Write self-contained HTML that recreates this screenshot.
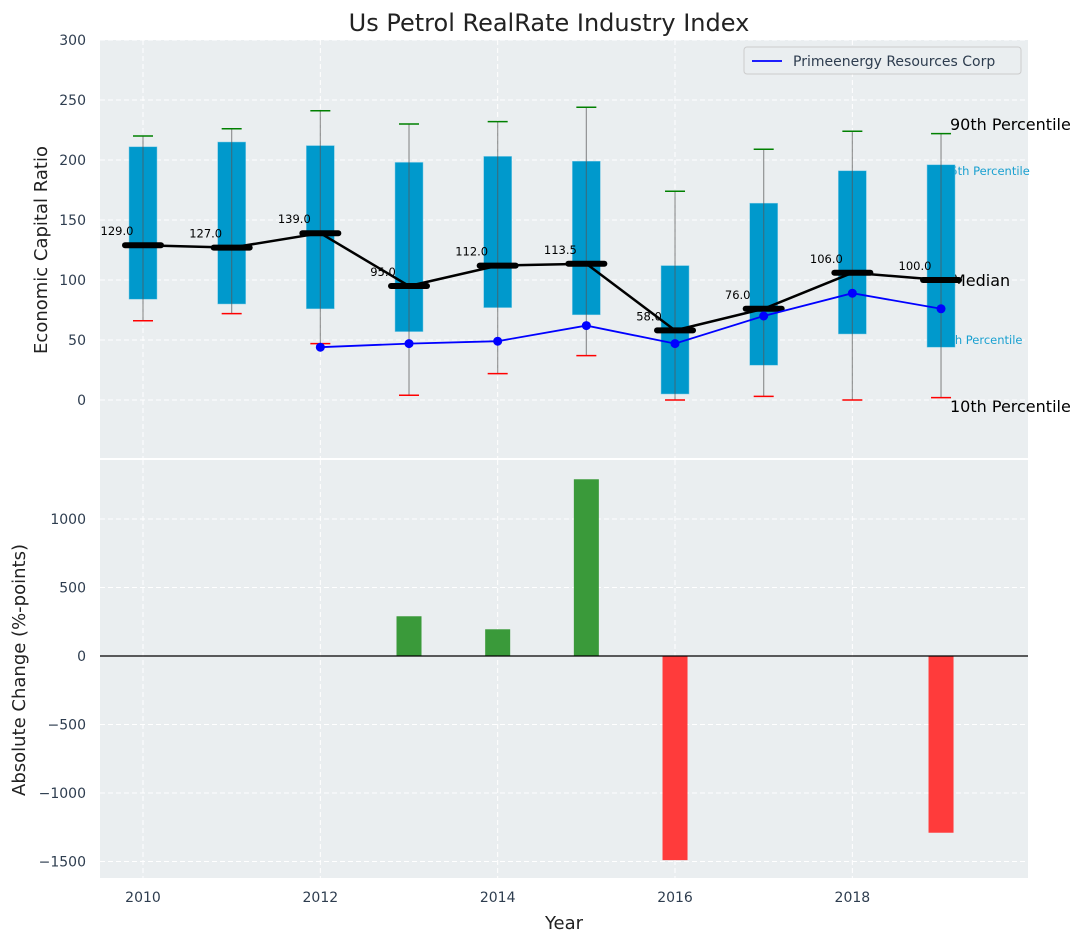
<!DOCTYPE html>
<html><head><meta charset="utf-8">
<style>
body{margin:0;background:#fff;}
svg{display:block;font-family:"DejaVu Sans","Liberation Sans",sans-serif;}
</style></head>
<body>
<svg id="chart" width="1085" height="942" xmlns="http://www.w3.org/2000/svg"></svg>
<script>
const years=[2010,2011,2012,2013,2014,2015,2016,2017,2018,2019];
const q1=[84,80,76,57,77,71,5,29,55,44];
const q3=[211,215,212,198,203,199,112,164,191,196];
const p10=[66,72,47,4,22,37,0,3,0,2];
const p90=[220,226,241,230,232,244,174,209,224,222];
const medians=[129,127,139,95,112,113.5,58,76,106,100];
const medianLabels=["129.0","127.0","139.0","95.0","112.0","113.5","58.0","76.0","106.0","100.0"];
const companyYears=[2012,2013,2014,2015,2016,2017,2018,2019];
const companyValues=[44,47,49,62,47,70,89,76];
const changeYears=[2013,2014,2015,2016,2019];
const changeValues=[290,195,1290,-1490,-1290];
const topTicks=[0,50,100,150,200,250,300];
const botTicks=[-1500,-1000,-500,0,500,1000];
const xTicks=[2010,2012,2014,2016,2018];

const NS="http://www.w3.org/2000/svg";
const svg=document.getElementById('chart');
function el(tag,attrs,parent,text){const e=document.createElementNS(NS,tag);for(const k in attrs)e.setAttribute(k,attrs[k]);if(text!==undefined)e.textContent=text;(parent||svg).appendChild(e);return e;}
const L=100,R=1028;
const x=v=>143+(v-2010)*88.67;
const T1=40,B1=458;const y1=v=>400-v*1.2;
const T2=460,B2=878;const y2=v=>656-v*0.137;

let e;
e=el('rect',{x:L,y:T1,width:R-L,height:B1-T1,fill:'#eaeef0'});

e=el('rect',{x:L,y:T2,width:R-L,height:B2-T2,fill:'#eaeef0'});


const grid=el('g',{stroke:'#fff','stroke-dasharray':'5,3','stroke-width':1});

topTicks.forEach(t=>{el('line',{x1:L,x2:R,y1:y1(t),y2:y1(t)},grid);});
botTicks.forEach(t=>{el('line',{x1:L,x2:R,y1:y2(t),y2:y2(t)},grid);});
xTicks.forEach(t=>{el('line',{x1:x(t),x2:x(t),y1:T1,y2:B1},grid);el('line',{x1:x(t),x2:x(t),y1:T2,y2:B2},grid);});

const tl=el('g',{fill:'#2e3d4f','font-size':14});

topTicks.forEach(t=>{el('text',{x:86,y:y1(t)+5,'text-anchor':'end'},tl,String(t));});
botTicks.forEach(t=>{el('text',{x:86,y:y2(t)+5,'text-anchor':'end'},tl,t<0?'\u2212'+(-t):String(t));});
xTicks.forEach(t=>{el('text',{x:x(t),y:902,'text-anchor':'middle'},tl,String(t));});

const ann=el('g',{});

el('text',{x:950,y:130,'font-size':16,fill:'#000'},ann,'90th Percentile');
el('text',{x:943,y:175,'font-size':11.5,fill:'#1aa0d0'},ann,'95th Percentile');
el('text',{x:952,y:286,'font-size':16,fill:'#000'},ann,'Median');
el('text',{x:943,y:344,'font-size':11.5,fill:'#1aa0d0'},ann,'5th Percentile');
el('text',{x:950,y:412,'font-size':16,fill:'#000'},ann,'10th Percentile');

years.forEach((yr,i)=>{
  const g=el('g',{});
  
  const cx=x(yr);
  el('rect',{x:cx-14,y:y1(q3[i]),width:28,height:y1(q1[i])-y1(q3[i]),fill:'#0099cc',stroke:'#7fcbe6','stroke-width':0.5},g);
  el('line',{x1:cx,x2:cx,y1:y1(p90[i]),y2:y1(p10[i]),stroke:'#555','stroke-opacity':0.6,'stroke-width':1.2},g);
  el('line',{x1:cx-10,x2:cx+10,y1:y1(p90[i]),y2:y1(p90[i]),stroke:'green','stroke-width':1.5},g);
  el('line',{x1:cx-10,x2:cx+10,y1:y1(p10[i]),y2:y1(p10[i]),stroke:'red','stroke-width':1.5},g);
});

e=el('polyline',{points:years.map((yr,i)=>x(yr)+','+y1(medians[i])).join(' '),fill:'none',stroke:'#000','stroke-width':2.5});

years.forEach((yr,i)=>{
  const m=el('line',{x1:x(yr)-18,x2:x(yr)+18,y1:y1(medians[i]),y2:y1(medians[i]),stroke:'#000','stroke-width':6,'stroke-linecap':'round'});
  
  const t=el('text',{x:x(yr)-26,y:y1(medians[i])-10,'font-size':11.5,'text-anchor':'middle',fill:'#000'},svg,medianLabels[i]);
  
});

e=el('polyline',{points:companyYears.map((yr,i)=>x(yr)+','+y1(companyValues[i])).join(' '),fill:'none',stroke:'#0000ff','stroke-width':1.8});

companyYears.forEach((yr,i)=>{
  const c=el('circle',{cx:x(yr),cy:y1(companyValues[i]),r:4.5,fill:'#0000ff'});
  
});

changeYears.forEach((yr,i)=>{
  const v=changeValues[i];
  const b=el('rect',{x:x(yr)-12.5,y:Math.min(y2(v),y2(0)),width:25,height:Math.abs(y2(v)-y2(0)),fill:v>=0?'#3a9a3a':'#ff3b3b'});
  
});
e=el('line',{x1:L,x2:R,y1:y2(0),y2:y2(0),stroke:'#000','stroke-width':1.2});


const lg=el('g',{});

el('rect',{x:744,y:47,width:277,height:27,rx:3,fill:'#eaeef0',stroke:'#ccc'},lg);
el('line',{x1:752,x2:782,y1:61,y2:61,stroke:'#0000ff','stroke-width':1.8},lg);
el('text',{x:793,y:66,'font-size':14,fill:'#2e3d4f'},lg,'Primeenergy Resources Corp');

e=el('text',{x:549,y:31,'font-size':24,'text-anchor':'middle',fill:'#222'},svg,'Us Petrol RealRate Industry Index');

e=el('text',{x:564,y:929,'font-size':18,'text-anchor':'middle',fill:'#222'},svg,'Year');

e=el('text',{x:47,y:250,'font-size':18,'text-anchor':'middle',fill:'#222',transform:'rotate(-90 47 250)'},svg,'Economic Capital Ratio');

e=el('text',{x:25,y:670,'font-size':18,'text-anchor':'middle',fill:'#222',transform:'rotate(-90 25 670)'},svg,'Absolute Change (%-points)');

</script>
</body></html>
